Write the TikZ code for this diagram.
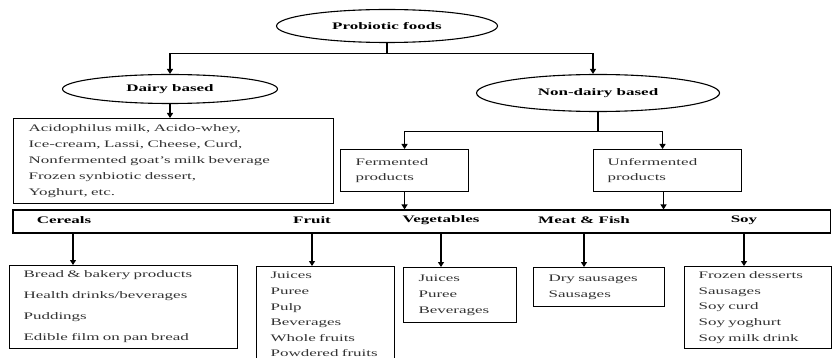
\documentclass[tikz,border=0pt]{standalone}
\usepackage{fontspec}
\setmainfont{Liberation Serif}[FakeStretch=1.7]
\usetikzlibrary{shapes.geometric,arrows.meta}
\definecolor{txtgray}{RGB}{50,50,50}

\begin{document}
\begin{tikzpicture}[x=1pt,y=-1pt,line width=1.1pt,
    oval/.style={draw,ellipse,inner sep=0pt,font=\fontsize{10}{12}\selectfont\bfseries},
    catlabel/.style={font=\fontsize{10}{12}\selectfont\bfseries},
    listbox/.style={draw,rectangle,anchor=north west,align=left,inner xsep=15pt,inner ysep=0pt,
        text=txtgray,font=\fontsize{10}{15.8}\selectfont},
    arr/.style={-{Triangle[length=5pt,width=6pt]}}]
    \clip (0,0) rectangle (832,358);
    % top level
    \node[oval,minimum width=221pt,minimum height=33pt] (root) at (387,26) {Probiotic foods};
    \node[oval,minimum width=215pt,minimum height=29pt] (dairy) at (170,89) {Dairy based};
    \node[oval,minimum width=243pt,minimum height=37pt] (nondairy) at (598,93) {Non-dairy based};
    \draw[arr] (root.south) -- ++(0,10.5) -| (dairy.north);
    \draw[arr] (root.south) -- ++(0,10.5) -| ([xshift=-5]nondairy.north);
    % dairy branch
    \node[listbox,text width=290pt,minimum height=85pt] (dairybox) at (13,118)
        {Acidophilus milk, Acido-whey,\\Ice-cream, Lassi, Cheese, Curd,\\Nonfermented goat's milk beverage\\Frozen synbiotic dessert,\\Yoghurt, etc.};
    \draw[arr] (dairy.south) -- (dairy.south |- dairybox.north);
    % non-dairy branch
    \node[listbox,text width=98pt,minimum height=42pt] (fermbox) at (340,149) {Fermented\\products};
    \node[listbox,inner xsep=14pt,text width=120pt,minimum height=42pt] (unfermbox) at (593,149) {Unfermented\\products};
    \draw[arr] (nondairy.south) -- ++(0,19.5) -| (fermbox.north);
    \draw[arr] (nondairy.south) -- ++(0,19.5) -| ([xshift=-5]unfermbox.north);
    % categories
    \node[draw,minimum width=817.5pt,minimum height=23pt,inner sep=0pt] (catbar) at (421.75,221.5) {};
    \node[catlabel] (cereals) at (64,220) {Cereals};
    \node[catlabel] (fruit) at (312,220) {Fruit};
    \node[catlabel] (veg) at (441,220) {Vegetables};
    \node[catlabel] (meat) at (584,220) {Meat \& Fish};
    \node[catlabel] (soy) at (744,220) {Soy};
    \draw[arr] (fermbox.south) -- (fermbox.south |- catbar.north);
    \draw[arr] ([xshift=-4]unfermbox.south) -- ([xshift=-4]unfermbox.south |- catbar.north);
    % products
    \node[listbox,inner xsep=14pt,text width=200pt,minimum height=83pt,font=\fontsize{10}{21}\selectfont] (cerealbox) at (9,265)
        {Bread \& bakery products\\Health drinks/beverages\\Puddings\\Edible film on pan bread};
    \node[listbox,inner xsep=14pt,text width=110pt,minimum height=96pt,font=\fontsize{10}{15.6}\selectfont] (fruitbox) at (256,266)
        {Juices\\Puree\\Pulp\\Beverages\\Whole fruits\\Powdered fruits};
    \node[listbox,text width=83pt,minimum height=55pt] (vegbox) at (403,267) {Juices\\Puree\\Beverages};
    \node[listbox,text width=101pt,minimum height=39pt] (meatbox) at (533,267) {Dry sausages\\Sausages};
    \node[listbox,inner xsep=14pt,text width=118.5pt,minimum height=82pt] (soybox) at (684,266)
        {Frozen desserts\\Sausages\\Soy curd\\Soy yoghurt\\Soy milk drink};
    \coordinate (cerealdown) at (73,233);
    \draw[arr] (cerealdown) -- (cerealdown |- cerealbox.north);
    \draw[arr] (fruit |- catbar.south) -- (fruit |- fruitbox.north);
    \draw[arr] (veg |- catbar.south) -- (veg |- vegbox.north);
    \draw[arr] (meat |- catbar.south) -- (meat |- meatbox.north);
    \draw[arr] (soy |- catbar.south) -- (soy |- soybox.north);
\end{tikzpicture}
\end{document}
